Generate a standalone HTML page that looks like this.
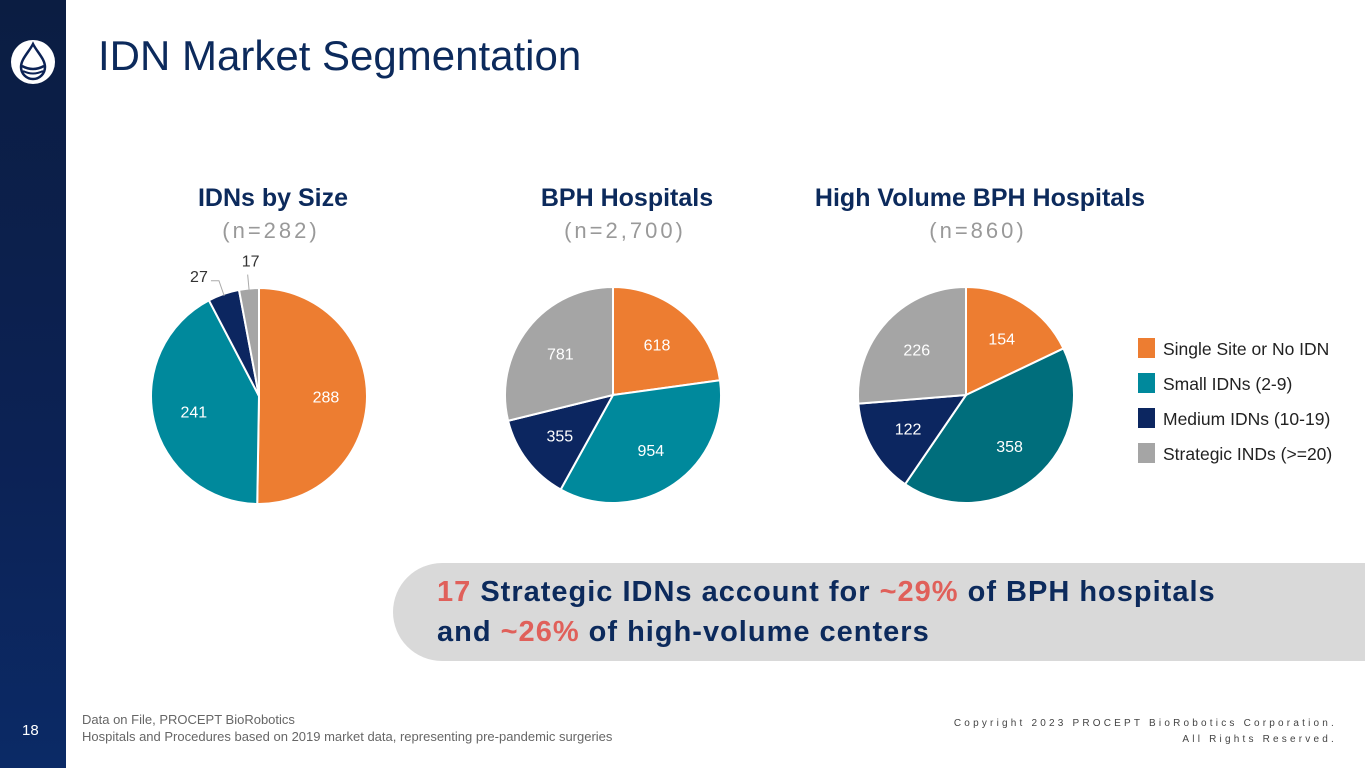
<!DOCTYPE html>
<html><head><meta charset="utf-8"><style>
body{margin:0;width:1365px;height:768px;overflow:hidden;background:#fff;font-family:"Liberation Sans",sans-serif;position:relative}
.side{position:absolute;left:0;top:0;width:66px;height:768px;background:linear-gradient(180deg,#0b1d42 0%,#0c2255 60%,#0b2a66 100%)}
.t{position:absolute;white-space:nowrap}
</style></head><body>
<div class="side"></div>
<svg style="position:absolute;left:10px;top:39px" width="46" height="46" viewBox="0 0 46 46">
<circle cx="23" cy="23" r="22" fill="#fff"/>
<path d="M23 5 C19 13 11 20 11 28 A12 12 0 0 0 35 28 C35 20 27 13 23 5Z" fill="none" stroke="#0b2255" stroke-width="2.5"/>
<path d="M12 27 Q23 33 34 27" fill="none" stroke="#0b2255" stroke-width="2.5"/>
<path d="M13 32 Q23 37 33 32" fill="none" stroke="#0b2255" stroke-width="2"/>
</svg>
<div class="t" style="left:98px;top:32px;font-size:42px;color:#0c2a5c">IDN Market Segmentation</div>
<div class="t" style="left:22px;top:722px;font-size:15px;color:#fff">18</div>
<div class="t" style="left:82px;top:711px;font-size:13px;color:#666;line-height:17px">Data on File, PROCEPT BioRobotics<br>Hospitals and Procedures based on 2019 market data, representing pre-pandemic surgeries</div>
<div class="t" style="right:28px;top:716px;font-size:10px;color:#444;letter-spacing:3.2px;text-align:right;line-height:16px">Copyright 2023 PROCEPT BioRobotics Corporation.<br>All Rights Reserved.</div>
<div style="position:absolute;left:393px;top:563px;width:980px;height:98px;background:#d9d9d9;border-radius:49px 0 0 49px"></div>
<div class="t" style="left:437px;top:572px;font-size:29px;letter-spacing:1px;font-weight:bold;color:#0c2a5c;line-height:40px"><span style="color:#e0605a">17</span> Strategic IDNs account for <span style="color:#e0605a">~29%</span> of BPH hospitals<br>and <span style="color:#e0605a">~26%</span> of high-volume centers</div>
<svg id="chart" style="position:absolute;left:0;top:0" width="1365" height="560"></svg>
<script>
const pie1Values=[288,241,27,17];
const pie2Values=[618,954,355,781];
const pie3Values=[154,358,122,226];
const pieTitles=["IDNs by Size","BPH Hospitals","High Volume BPH Hospitals"];
const pieSubtitles=["(n=282)","(n=2,700)","(n=860)"];
const legendLabels=["Single Site or No IDN","Small IDNs (2-9)","Medium IDNs (10-19)","Strategic INDs (>=20)"];
const colors=["#ed7d31","#00899c","#0c2660","#a5a5a5"];
const NS="http://www.w3.org/2000/svg";
const svg=document.getElementById('chart');
function mk(t,a){const e=document.createElementNS(NS,t);for(const k in a)e.setAttribute(k,a[k]);svg.appendChild(e);return e;}
const pies=[{v:pie1Values,cx:259,cy:396,r:108,c:colors,outside:[2,3]},
{v:pie2Values,cx:613,cy:395,r:108,c:colors,outside:[]},
{v:pie3Values,cx:966,cy:395,r:108,c:["#ed7d31","#006e7c","#0c2660","#a5a5a5"],outside:[]}];
const slug=["single-site","small-idns","medium-idns","strategic-idns"];
pies.forEach((p,pi)=>{
  const tot=p.v.reduce((a,b)=>a+b,0);let a0=0;
  const tt=mk('text',{x:p.cx+14,y:206,'text-anchor':'middle','font-size':25,'font-weight':'bold',fill:'#0c2a5c','font-family':'Liberation Sans'});
  tt.textContent=pieTitles[pi];
  
  
  const st=mk('text',{x:p.cx+12,y:238,'text-anchor':'middle','font-size':22,fill:'#999','letter-spacing':'3','font-family':'Liberation Sans'});
  st.textContent=pieSubtitles[pi];
  
  
  p.v.forEach((val,i)=>{
    const a1=a0+val/tot*2*Math.PI;
    const x0=p.cx+p.r*Math.sin(a0),y0=p.cy-p.r*Math.cos(a0),x1=p.cx+p.r*Math.sin(a1),y1=p.cy-p.r*Math.cos(a1);
    const path=mk('path',{d:`M${p.cx},${p.cy}L${x0},${y0}A${p.r},${p.r} 0 ${a1-a0>Math.PI?1:0} 1 ${x1},${y1}Z`,fill:p.c[i],stroke:'#fff','stroke-width':2});
    
    
    const am=(a0+a1)/2;
    let lx,ly,fill='#fff';
    if(p.outside.includes(i)){
      const ex=p.cx+(p.r-2)*Math.sin(am),ey=p.cy-(p.r-2)*Math.cos(am);
      const bx=p.cx+(p.r+14)*Math.sin(am),by=p.cy-(p.r+14)*Math.cos(am);
      const ln=mk('polyline',{points:i==2?`${ex},${ey} ${bx},${by} ${bx-8},${by}`:`${ex},${ey} ${bx},${by}`,fill:'none',stroke:'#aaa','stroke-width':1});
      
      
      lx=i==2?bx-20:bx+3;ly=i==2?by+1:by-8;fill='#333';
    } else {lx=p.cx+p.r*0.62*Math.sin(am);ly=p.cy-p.r*0.62*Math.cos(am)+6;}
    const lb=mk('text',{x:lx,y:ly,'text-anchor':'middle','font-size':16,fill:fill,'font-family':'Liberation Sans'});
    lb.textContent=val;
    
    
    a0=a1;
  });
});
legendLabels.forEach((l,i)=>{
  const r=mk('rect',{x:1138,y:338+i*35,width:17,height:20,fill:colors[i]});
  
  
  const t=mk('text',{x:1163,y:355+i*35,'font-size':17.5,fill:'#222','font-family':'Liberation Sans'});
  t.textContent=l;
  
  
});
</script>
</body></html>
